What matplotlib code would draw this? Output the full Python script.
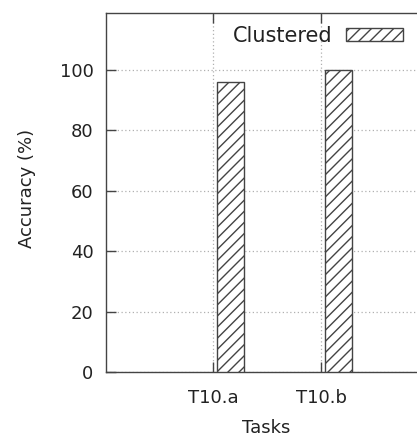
import matplotlib
matplotlib.use("Agg")
import matplotlib.pyplot as plt
import numpy as np

# Data
tasks = ["T10.a", "T10.b"]
clustered = [96, 100]
series_label = "Clustered"

y_ticks = [0, 20, 40, 60, 80, 100]

text_color = "#222222"
line_color = "#444444"

plt.rcParams["font.family"] = "DejaVu Sans"
plt.rcParams["hatch.color"] = "#555555"
plt.rcParams["hatch.linewidth"] = 1.0

fig = plt.figure(figsize=(4.17, 4.38), dpi=100)
ax = fig.add_axes([106 / 417, 1 - 372 / 438, 1 - 106 / 417, (372 - 13) / 438])

x = np.arange(len(tasks))
bar_width = 0.25
offset = 0.165
ax.bar(x + offset, clustered, width=bar_width, facecolor="white",
       edgecolor=line_color, linewidth=1.0, hatch="///", label=series_label,
       zorder=3)

ax.set_xlim(-0.991, 1.889)
ax.set_ylim(0, 118.9)
ax.set_xticks(x)
ax.set_xticklabels(tasks)
ax.set_yticks(y_ticks)

# gnuplot-like dotted grid
ax.grid(True, color="#b0b0b0", linestyle=(0, (1, 2)), linewidth=0.9, zorder=0)

for side in ["left", "bottom", "top"]:
    ax.spines[side].set_color(line_color)
    ax.spines[side].set_linewidth(1.0)
ax.spines["right"].set_visible(False)

ax.tick_params(axis="both", direction="in", length=7, width=1.0,
               color=line_color, labelsize=13, labelcolor=text_color)
ax.tick_params(axis="y", pad=9)
ax.tick_params(axis="x", top=True, pad=12)

ax.set_ylabel("Accuracy (%)", fontsize=13, color=text_color)
ax.set_xlabel("Tasks", fontsize=13, color=text_color)
ax.xaxis.set_label_coords(0.514, -0.13)
ax.yaxis.set_label_coords(-0.225, 0.512)

leg = ax.legend(loc="upper right", frameon=False, fontsize=15,
                markerfirst=False, handlelength=2.7, handleheight=0.6,
                handletextpad=0.67, borderaxespad=0.2,
                bbox_to_anchor=(0.994, 1.0))
for t in leg.get_texts():
    t.set_color(text_color)

fig.savefig("out.png", dpi=100)
